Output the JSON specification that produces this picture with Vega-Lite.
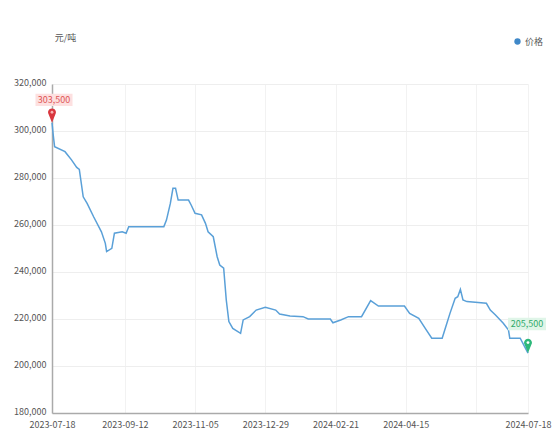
{
  "$schema": "https://vega.github.io/schema/vega-lite/v6.json",
  "width": 476,
  "height": 329,
  "autosize": {"type": "none"},
  "padding": {"left": 52, "top": 84, "right": 26, "bottom": 17},
  "background": "white",
  "config": {
    "view": {"stroke": null},
    "font": "Noto Sans CJK SC",
    "axis": {"labelFont": "Noto Sans CJK SC", "titleFont": "Noto Sans CJK SC"}
  },
  "data": {
    "values": [
      {"date": "2023-07-18", "value": 303500},
      {"date": "2023-07-19", "value": 298000},
      {"date": "2023-07-20", "value": 293300},
      {"date": "2023-07-28", "value": 291200},
      {"date": "2023-08-02", "value": 287700},
      {"date": "2023-08-06", "value": 284500},
      {"date": "2023-08-08", "value": 283700},
      {"date": "2023-08-11", "value": 272000},
      {"date": "2023-08-14", "value": 269200},
      {"date": "2023-08-19", "value": 263500},
      {"date": "2023-08-25", "value": 257100},
      {"date": "2023-08-28", "value": 252200},
      {"date": "2023-08-29", "value": 248700},
      {"date": "2023-09-02", "value": 250100},
      {"date": "2023-09-04", "value": 256500},
      {"date": "2023-09-10", "value": 257100},
      {"date": "2023-09-13", "value": 256500},
      {"date": "2023-09-15", "value": 259300},
      {"date": "2023-10-12", "value": 259300},
      {"date": "2023-10-14", "value": 262100},
      {"date": "2023-10-17", "value": 269200},
      {"date": "2023-10-19", "value": 275600},
      {"date": "2023-10-21", "value": 275600},
      {"date": "2023-10-23", "value": 270600},
      {"date": "2023-10-31", "value": 270600},
      {"date": "2023-11-02", "value": 268500},
      {"date": "2023-11-05", "value": 265000},
      {"date": "2023-11-10", "value": 264300},
      {"date": "2023-11-13", "value": 260700},
      {"date": "2023-11-15", "value": 257100},
      {"date": "2023-11-19", "value": 255000},
      {"date": "2023-11-22", "value": 246500},
      {"date": "2023-11-24", "value": 243000},
      {"date": "2023-11-27", "value": 241600},
      {"date": "2023-11-29", "value": 228100},
      {"date": "2023-12-01", "value": 218900},
      {"date": "2023-12-04", "value": 216000},
      {"date": "2023-12-10", "value": 213900},
      {"date": "2023-12-12", "value": 219600},
      {"date": "2023-12-17", "value": 221000},
      {"date": "2023-12-22", "value": 223800},
      {"date": "2023-12-29", "value": 225000},
      {"date": "2024-01-06", "value": 223800},
      {"date": "2024-01-09", "value": 222100},
      {"date": "2024-01-17", "value": 221300},
      {"date": "2024-01-27", "value": 221000},
      {"date": "2024-01-31", "value": 220000},
      {"date": "2024-02-17", "value": 220000},
      {"date": "2024-02-19", "value": 218400},
      {"date": "2024-02-25", "value": 219600},
      {"date": "2024-03-02", "value": 221000},
      {"date": "2024-03-12", "value": 221000},
      {"date": "2024-03-19", "value": 227800},
      {"date": "2024-03-25", "value": 225500},
      {"date": "2024-04-14", "value": 225500},
      {"date": "2024-04-18", "value": 222400},
      {"date": "2024-04-25", "value": 220300},
      {"date": "2024-04-30", "value": 216000},
      {"date": "2024-05-05", "value": 211800},
      {"date": "2024-05-13", "value": 211800},
      {"date": "2024-05-15", "value": 215300},
      {"date": "2024-05-19", "value": 222400},
      {"date": "2024-05-23", "value": 228800},
      {"date": "2024-05-25", "value": 229500},
      {"date": "2024-05-27", "value": 232600},
      {"date": "2024-05-29", "value": 228100},
      {"date": "2024-06-01", "value": 227400},
      {"date": "2024-06-16", "value": 226700},
      {"date": "2024-06-19", "value": 223800},
      {"date": "2024-06-23", "value": 221700},
      {"date": "2024-06-29", "value": 218200},
      {"date": "2024-07-03", "value": 215300},
      {"date": "2024-07-04", "value": 211800},
      {"date": "2024-07-12", "value": 211800},
      {"date": "2024-07-18", "value": 205500}
    ]
  },
  "encoding": {
    "x": {
      "field": "date",
      "type": "temporal",
      "scale": {"type": "utc", "domain": ["2023-07-18", "2024-07-18"]},
      "axis": {
        "title": null,
        "values": ["2023-07-18", "2023-09-12", "2023-11-05", "2023-12-29", "2024-02-21", "2024-04-15", "2024-06-08", "2024-07-18"],
        "format": "%Y-%m-%d",
        "labelExpr": "utcFormat(datum.value, '%m-%d') == '06-08' ? '' : datum.label",
        "labelOverlap": false,
        "labelFlush": false,
        "labelBound": false,
        "labelFontSize": 9,
        "labelColor": "#555555",
        "labelPadding": 7,
        "ticks": false,
        "domainColor": "#aaaaaa",
        "domainWidth": 1.5,
        "grid": true,
        "gridColor": "#f2f2f2"
      }
    },
    "y": {
      "field": "value",
      "type": "quantitative",
      "scale": {"domain": [180000, 320000], "nice": false, "zero": false},
      "axis": {
        "title": "元/吨",
        "titleAngle": 0,
        "titleAlign": "center",
        "titleBaseline": "middle",
        "titleX": 13,
        "titleY": -47,
        "titleFontSize": 9,
        "titleFontWeight": "normal",
        "titleColor": "#555555",
        "values": [180000, 200000, 220000, 240000, 260000, 280000, 300000, 320000],
        "format": ",d",
        "labelFontSize": 9,
        "labelColor": "#555555",
        "labelPadding": 6,
        "labelBaseline": "bottom",
        "labelOffset": 3,
        "ticks": false,
        "domainColor": "#aaaaaa",
        "domainWidth": 1.5,
        "gridColor": "#eeeeee"
      }
    }
  },
  "layer": [
    {
      "mark": {"type": "line", "strokeWidth": 1.5},
      "encoding": {
        "color": {
          "datum": "价格",
          "scale": {"range": ["#5aa0d8"]},
          "legend": {
            "title": null,
            "orient": "none",
            "legendX": 461,
            "legendY": -47,
            "padding": 0,
            "symbolType": "circle",
            "symbolSize": 40,
            "symbolFillColor": "#3f88c8",
            "symbolStrokeWidth": 0,
            "labelFontSize": 9,
            "labelColor": "#555555",
            "labelOffset": 3
          }
        }
      }
    },
    {
      "transform": [{"filter": "datum.value == 303500"}],
      "mark": {"type": "point", "shape": "M-1,-0.33 L1,-0.33 L1,0.33 L-1,0.33 Z", "size": 1369, "filled": true, "fill": "#fde0e0", "opacity": 1, "xOffset": 2, "yOffset": -23}
    },
    {
      "transform": [{"filter": "datum.value == 303500"}],
      "mark": {"type": "text", "fontSize": 9, "color": "#e05555", "align": "center", "baseline": "middle", "xOffset": 2, "yOffset": -23},
      "encoding": {"text": {"field": "value", "type": "quantitative", "format": ",d"}}
    },
    {
      "transform": [{"filter": "datum.value == 303500"}],
      "mark": {"type": "point", "shape": "M0,0 L-0.3,-0.75 A0.36,0.36 0 1,1 0.3,-0.75 Z", "size": 484, "filled": true, "fill": "#d9363e", "opacity": 1}
    },
    {
      "transform": [{"filter": "datum.value == 303500"}],
      "mark": {"type": "point", "shape": "circle", "size": 8, "filled": true, "fill": "#f7b0b0", "opacity": 1, "yOffset": -10.5}
    },
    {
      "transform": [{"filter": "datum.value == 205500"}],
      "mark": {"type": "point", "shape": "M-1,-0.33 L1,-0.33 L1,0.33 L-1,0.33 Z", "size": 1444, "filled": true, "fill": "#dff5e8", "opacity": 1, "xOffset": -1, "yOffset": -29}
    },
    {
      "transform": [{"filter": "datum.value == 205500"}],
      "mark": {"type": "text", "fontSize": 9, "color": "#2faa6a", "align": "center", "baseline": "middle", "xOffset": -1, "yOffset": -29},
      "encoding": {"text": {"field": "value", "type": "quantitative", "format": ",d"}}
    },
    {
      "transform": [{"filter": "datum.value == 205500"}],
      "mark": {"type": "point", "shape": "M0,0 L-0.3,-0.75 A0.36,0.36 0 1,1 0.3,-0.75 Z", "size": 484, "filled": true, "fill": "#2db87a", "opacity": 1}
    },
    {
      "transform": [{"filter": "datum.value == 205500"}],
      "mark": {"type": "point", "shape": "circle", "size": 8, "filled": true, "fill": "#ffffff", "opacity": 1, "yOffset": -10.5}
    }
  ]
}
